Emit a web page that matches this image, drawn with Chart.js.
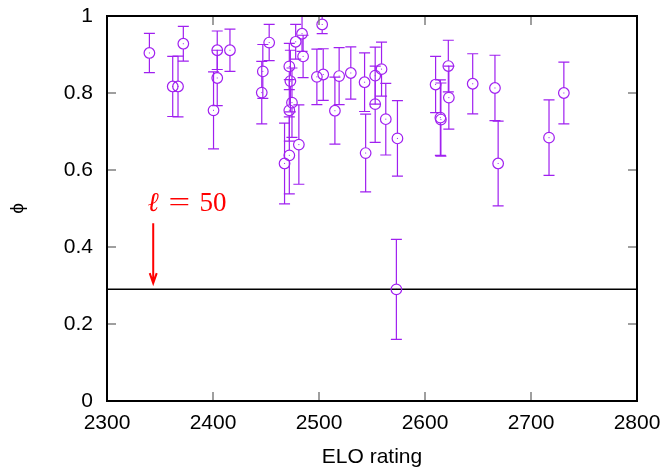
<!DOCTYPE html>
<html>
<head>
<meta charset="utf-8">
<script src="https://cdn.jsdelivr.net/npm/chart.js@4.4.1/dist/chart.umd.min.js"></script>
<style>
  html, body { margin: 0; padding: 0; background: #fff; }
</style>
</head>
<body>
<canvas id="phiChart" width="667" height="470"></canvas>
<script>
// ELO rating of each player, measured phi and its error
const elo = [2340, 2362, 2367, 2372, 2400.5, 2404, 2404, 2416, 2446, 2447, 2453,
  2467.5, 2472, 2472, 2473, 2474.5, 2472, 2481, 2478, 2484, 2485, 2498, 2503, 2504,
  2515, 2519, 2530, 2543, 2544, 2553, 2553, 2559, 2563, 2574, 2573,
  2610, 2614.5, 2615, 2622, 2622.5, 2645, 2666, 2669, 2717, 2731];
const phi = [0.904, 0.817, 0.817, 0.928, 0.755, 0.911, 0.839, 0.911, 0.801, 0.856, 0.931,
  0.617, 0.638, 0.869, 0.831, 0.775, 0.755, 0.666, 0.933, 0.954, 0.895, 0.842, 0.978, 0.848,
  0.754, 0.844, 0.852, 0.828, 0.644, 0.845, 0.771, 0.862, 0.732, 0.682, 0.290,
  0.822, 0.736, 0.731, 0.870, 0.788, 0.824, 0.813, 0.617, 0.684, 0.800];
const phiErr = [0.051, 0.078, 0.079, 0.045, 0.100, 0.050, 0.072, 0.055, 0.081, 0.070, 0.047,
  0.105, 0.100, 0.060, 0.080, 0.090, 0.080, 0.103, 0.045, 0.046, 0.055, 0.072, 0.024, 0.067,
  0.087, 0.074, 0.068, 0.076, 0.101, 0.074, 0.099, 0.070, 0.093, 0.098, 0.130,
  0.073, 0.098, 0.095, 0.067, 0.082, 0.078, 0.085, 0.110, 0.098, 0.080];

const xTicks = [2300, 2400, 2500, 2600, 2700, 2800];
const yTicks = [0, 0.2, 0.4, 0.6, 0.8, 1];

// threshold line for l = 50
const threshold = 0.29;
const arrowX = 2343.6;
const arrowTop = 0.462;
const arrowTip = 0.306;
const labelX = 2338.3;
const labelY = 0.493;

const purple = "#a020f0";
const markerRadius = 5.3;

Chart.defaults.font.family = "'Liberation Sans', Arial, sans-serif";
Chart.defaults.color = "#000";

// error bars, drawn before the circles
const errorBars = {
  id: "errorBars",
  beforeDatasetsDraw(chart) {
    const { ctx, chartArea, scales } = chart;
    ctx.save();
    ctx.beginPath();
    ctx.rect(chartArea.left, chartArea.top, chartArea.right - chartArea.left, chartArea.bottom - chartArea.top);
    ctx.clip();
    ctx.strokeStyle = purple;
    ctx.fillStyle = purple;
    ctx.lineWidth = 1.2;
    for (let i = 0; i < elo.length; i++) {
      const x = scales.x.getPixelForValue(elo[i]);
      const yc = scales.y.getPixelForValue(phi[i]);
      const yHi = scales.y.getPixelForValue(phi[i] + phiErr[i]);
      const yLo = scales.y.getPixelForValue(phi[i] - phiErr[i]);
      ctx.beginPath();
      ctx.moveTo(x, yHi);
      ctx.lineTo(x, yc - markerRadius);
      ctx.moveTo(x, yc + markerRadius);
      ctx.lineTo(x, yLo);
      ctx.moveTo(x - 5.5, yHi);
      ctx.lineTo(x + 5.5, yHi);
      ctx.moveTo(x - 5.5, yLo);
      ctx.lineTo(x + 5.5, yLo);
      ctx.stroke();
      ctx.fillRect(x - 0.5, yc - 0.5, 1, 1);
    }
    ctx.restore();
  },
};

// frame, inward ticks on all four sides, arrow and label
const frame = {
  id: "frame",
  afterDraw(chart) {
    const { ctx, chartArea, scales } = chart;
    const { left, right, top, bottom } = chartArea;
    ctx.save();
    ctx.strokeStyle = "#808080";
    ctx.lineWidth = 1.5;
    ctx.beginPath();
    xTicks.forEach((v) => {
      const x = scales.x.getPixelForValue(v);
      ctx.moveTo(x, bottom);
      ctx.lineTo(x, bottom - 9);
      ctx.moveTo(x, top);
      ctx.lineTo(x, top + 9);
    });
    yTicks.forEach((v) => {
      const y = scales.y.getPixelForValue(v);
      ctx.moveTo(left, y);
      ctx.lineTo(left + 9, y);
      ctx.moveTo(right, y);
      ctx.lineTo(right - 9, y);
    });
    ctx.stroke();

    ctx.strokeStyle = "#000";
    ctx.lineWidth = 2;
    ctx.strokeRect(left, top, right - left, bottom - top);

    // red arrow
    const ax = scales.x.getPixelForValue(arrowX);
    const ay0 = scales.y.getPixelForValue(arrowTop);
    const ay1 = scales.y.getPixelForValue(arrowTip);
    ctx.strokeStyle = "#ff0000";
    ctx.lineWidth = 2;
    ctx.beginPath();
    ctx.moveTo(ax, ay0);
    ctx.lineTo(ax, ay1);
    ctx.moveTo(ax - 3.5, ay1 - 10);
    ctx.lineTo(ax, ay1);
    ctx.lineTo(ax + 3.5, ay1 - 10);
    ctx.stroke();

    // label
    const lx = scales.x.getPixelForValue(labelX);
    const ly = scales.y.getPixelForValue(labelY);
    ctx.fillStyle = "#ff0000";
    ctx.textBaseline = "alphabetic";
    ctx.textAlign = "left";
    ctx.font = "italic 27px 'Liberation Serif', 'DejaVu Serif', serif";
    ctx.fillText("\u2113", lx, ly);
    ctx.font = "27px 'Liberation Serif', 'DejaVu Serif', serif";
    ctx.save();
    ctx.translate(lx + 21, ly);
    ctx.scale(1.42, 1);
    ctx.fillText("=", 0, 0);
    ctx.restore();
    ctx.fillText("50", lx + 52, ly);
    ctx.restore();
  },
};

new Chart(document.getElementById("phiChart").getContext("2d"), {
  type: "scatter",
  data: {
    datasets: [
      {
        label: "phi",
        data: elo.map((e, i) => ({ x: e, y: phi[i] })),
        borderColor: purple,
        backgroundColor: "rgba(0,0,0,0)",
        pointRadius: markerRadius,
        pointBorderWidth: 1.2,
        order: 1,
      },
      {
        type: "line",
        label: "threshold",
        data: [{ x: xTicks[0], y: threshold }, { x: xTicks[xTicks.length - 1], y: threshold }],
        borderColor: "#000",
        borderWidth: 1.5,
        pointRadius: 0,
        order: 2,
      },
    ],
  },
  options: {
    responsive: false,
    animation: false,
    events: [],
    layout: { padding: { left: 0, right: 30, top: 16, bottom: 0 } },
    plugins: {
      legend: { display: false },
      tooltip: { enabled: false },
    },
    scales: {
      x: {
        type: "linear",
        min: 2300,
        max: 2800,
        afterFit: (scale) => {
          scale.height = 69;
          scale.paddingLeft = 0;
          scale.paddingRight = 0;
        },
        afterBuildTicks: (scale) => { scale.ticks = xTicks.map((v) => ({ value: v })); },
        grid: { display: false, drawTicks: false },
        border: { display: false },
        ticks: { padding: 10, font: { size: 21 }, callback: (v) => String(v) },
        title: { display: true, text: "ELO rating", font: { size: 21 }, padding: { top: 0, bottom: 0 } },
      },
      y: {
        min: 0,
        max: 1,
        afterFit: (scale) => {
          scale.width = 107;
          scale.paddingTop = 0;
          scale.paddingBottom = 0;
        },
        afterBuildTicks: (scale) => { scale.ticks = yTicks.map((v) => ({ value: v })); },
        grid: { display: false, drawTicks: false },
        border: { display: false },
        ticks: { padding: 14, font: { size: 21 }, callback: (v) => String(v) },
        title: { display: true, text: "\u03d5", font: { size: 19 }, padding: { top: 6, bottom: 0 } },
      },
    },
  },
  plugins: [errorBars, frame],
});
</script>
</body>
</html>
